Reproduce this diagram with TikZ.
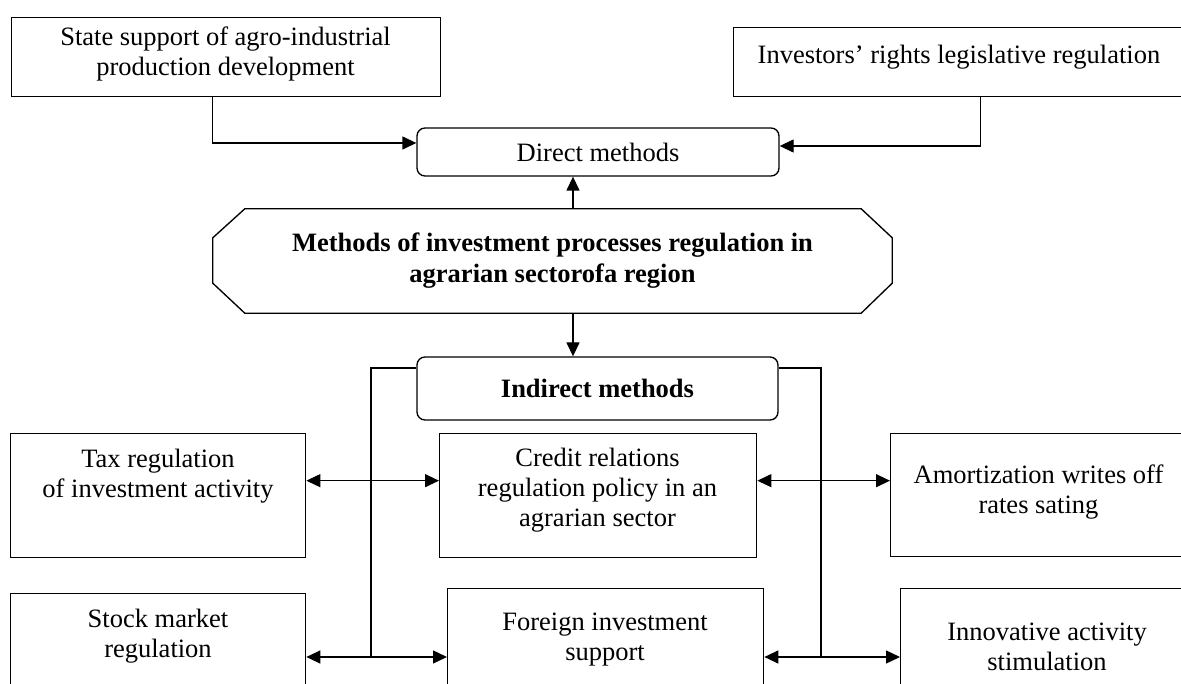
\documentclass[tikz,border=0pt]{standalone}
\usepackage{fontspec}
\setmainfont{Liberation Serif}
\usetikzlibrary{arrows.meta,calc}
\begin{document}
\begin{tikzpicture}[x=1pt,y=-1pt,
  font=\fontsize{26.5}{30}\selectfont,
  box/.style={draw, line width=1.35pt, inner sep=0pt, anchor=north west},
  rbox/.style={draw, line width=1.35pt, rounded corners=8pt, inner sep=0pt},
  lbl/.style={align=center, inner sep=0pt},
  conn/.style={line width=1.35pt},
  arr/.style={line width=1.35pt, -{Triangle[length=14pt,width=13pt]}},
  arrb/.style={line width=1.35pt, {Triangle[length=14pt,width=13pt]}-{Triangle[length=14pt,width=13pt]}}]
\path[use as bounding box] (0,0) rectangle (1181,684);
\clip (0,0) rectangle (1181,684);
\fill[white] (0,0) rectangle (1181,684);

% top boxes
\node[box, minimum width=429pt, minimum height=79pt] (state) at (11,17) {};
\node[lbl] (stateT) at (225.5,54) {State support of agro-industrial\\production development};
\node[box, minimum width=452pt, minimum height=69pt] (inv) at (733,27) {};
\node[lbl] (invT) at (959,57) {Investors’ rights legislative regulation};

% direct methods
\node[rbox, minimum width=362pt, minimum height=48pt] (direct) at (598,152) {Direct methods};

% main octagon
\node[minimum width=679pt, minimum height=104pt, inner sep=0pt, align=center,
      font=\fontsize{26.5}{31}\selectfont\bfseries] (main) at (552.5,261)
  {Methods of investment processes regulation in\\agrarian sectorofa region};
\draw[conn] ([xshift=32pt]main.north west) -- ([xshift=-31pt]main.north east)
  -- ([yshift=-29pt]main.north east) -- ([yshift=30pt]main.south east)
  -- ([xshift=-31pt]main.south east) -- ([xshift=32pt]main.south west)
  -- ([yshift=30pt]main.south west) -- ([yshift=-29pt]main.north west) -- cycle;

% indirect methods
\node[rbox, minimum width=361pt, minimum height=63pt, font=\fontsize{26.5}{30}\selectfont\bfseries] (indirect) at (597.5,388.5) {Indirect methods};

% row 1
\node[box, minimum width=295pt, minimum height=124pt] (tax) at (10,433) {};
\node[lbl] (taxT) at (158,476) {Tax regulation\\of investment activity};
\node[box, minimum width=317pt, minimum height=124pt] (credit) at (439,433) {};
\node[lbl] (creditT) at (597.5,490) {Credit relations\\regulation policy in an\\agrarian sector};
\node[box, minimum width=293pt, minimum height=123pt] (amort) at (890,433) {};
\node[lbl] (amortT) at (1038.5,492) {Amortization writes off\\rates sating};

% row 2
\node[box, minimum width=295pt, minimum height=110pt] (stock) at (10,593) {};
\node[lbl] (stockT) at (158,636) {Stock market\\regulation};
\node[box, minimum width=316pt, minimum height=115pt] (foreign) at (447,588) {};
\node[lbl] (foreignT) at (605,640) {Foreign investment\\support};
\node[box, minimum width=283pt, minimum height=115pt] (innov) at (900,588) {};
\node[lbl] (innovT) at (1047,647) {Innovative activity\\stimulation};

% connectors
\draw[arr] ([xshift=-13.5pt]state.south) |- ([yshift=9pt]direct.west);
\draw[arr] ([xshift=21pt]inv.south) |- ([yshift=6pt]direct.east);
\draw[arr] ([xshift=20.5pt]main.north) -- ([xshift=20.5pt]main.north |- direct.south);
\draw[arr] ([xshift=20.5pt]main.south) -- ([xshift=20.5pt]main.south |- indirect.north);

\coordinate (jl) at (371,657);
\coordinate (jr) at (821,657);
\draw[conn] ([yshift=20.5pt]indirect.west) -| (jl);
\draw[conn] ([yshift=20.5pt]indirect.east) -| (jr);
\draw[arrb] ([yshift=15pt]tax.east) -- ([yshift=15pt]credit.west);
\draw[arrb] ([yshift=15pt]credit.east) -- ([yshift=15pt]credit.east -| amort.west);
\draw[arrb] (stock.east |- jl) -- (foreign.west |- jl);
\draw[arrb] (foreign.east |- jr) -- (innov.west |- jr);
\end{tikzpicture}
\end{document}
